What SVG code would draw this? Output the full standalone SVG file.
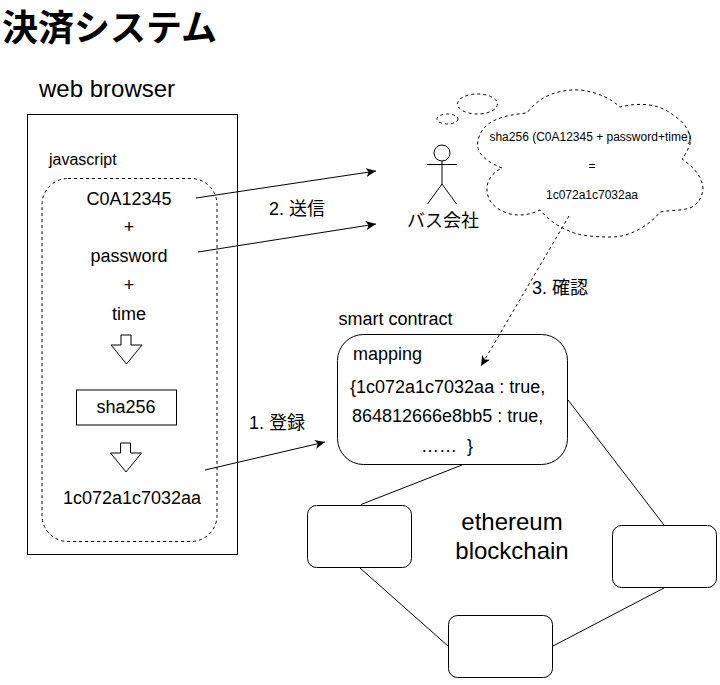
<svg xmlns="http://www.w3.org/2000/svg" width="720" height="685" viewBox="0 0 720 685">
<defs>
<marker id="arr" markerUnits="userSpaceOnUse" markerWidth="12" markerHeight="10" refX="10" refY="4.5" orient="auto"><path d="M0 0L10 4.5L0 9L2.5 4.5Z" fill="#000"/></marker>
</defs>
<style>
text{font-family:"Liberation Sans","Noto Sans CJK JP",sans-serif;fill:#000}
.m{text-anchor:middle}
.b{fill:#fff;stroke:#000;stroke-width:1}
.d{fill:none;stroke:#000;stroke-width:1;stroke-dasharray:3 3}
.c{fill:none;stroke:#000;stroke-width:1}
.ar{fill:#fff;stroke:#000;stroke-width:1}
</style>
<rect width="720" height="685" fill="#fff"/>
<text id="title" x="2" y="41" font-size="36" font-weight="bold">決済システム</text>
<g id="browser">
<rect class="b" x="27.500" y="114.500" width="210" height="440"/>
<text x="39" y="97" font-size="24">web browser</text>
<text x="49" y="165" font-size="16">javascript</text>
</g>
<g id="js">
<rect class="d" x="42" y="178.500" width="175" height="363" rx="26"/>
<text class="m" x="129" y="205" font-size="18">C0A12345</text>
<text class="m" x="129" y="233" font-size="18">+</text>
<text class="m" x="129" y="262" font-size="18">password</text>
<text class="m" x="129" y="291" font-size="18">+</text>
<text class="m" x="129" y="320" font-size="18">time</text>
<path class="ar" d="M121 335H131V345H142L126.500 364L111 345H121Z"/>
<path class="ar" d="M120.500 443H130.500V453H141.500L126 472L110.500 453H120.500Z"/>
</g>
<g id="sha">
<rect class="b" x="76.500" y="390" width="100" height="35"/>
<text class="m" x="126" y="413" font-size="18">sha256</text>
</g>
<text id="hash" class="m" x="132" y="504" font-size="18">1c072a1c7032aa</text>
<text id="label2" x="269" y="215" font-size="18">2. 送信</text>
<text id="label1" x="249" y="429" font-size="18">1. 登録</text>
<text id="label3" x="532" y="294" font-size="18">3. 確認</text>
<g id="actor" class="c">
<circle cx="442" cy="153" r="8"/>
<path d="M442 161V184M427 164.500H457M442 184L427.500 204M442 184L456.500 204"/>
</g>
<text id="bus" class="m" x="443" y="227" font-size="18">バス会社</text>
<g id="cloud">
<ellipse class="d" cx="477.500" cy="104" rx="20" ry="10"/>
<ellipse class="d" cx="447.500" cy="119" rx="10.500" ry="5"/>
<path class="d" d="M502 168C482 160 474 150 479 137C484 120 505 115 527 113C540 95 560 89 580 90C597 92 610 98 620 107C640 102 660 104 673 115C686 123 692 135 690 144C688 150 685 155 682 159C695 168 703 178 703 190C701 200 697 205 690 208C680 211 670 210 660 212C650 225 630 237 612 237C595 237 578 236 567 230C555 225 547 218 540 210C530 215 520 216 510 214C495 210 486 200 487 187C488 178 494 172 502 168Z"/>
<text class="m" x="590.500" y="141" font-size="12">sha256 (C0A12345 + password+time)</text>
<text class="m" x="592" y="170" font-size="12">=</text>
<text class="m" x="592" y="199" font-size="12">1c072a1c7032aa</text>
</g>
<g id="contract">
<text x="338.500" y="325" font-size="18">smart contract</text>
<rect class="b" x="337.500" y="334.500" width="230" height="130" rx="26"/>
<text x="353" y="360" font-size="18">mapping</text>
<text x="350" y="393" font-size="18">{1c072a1c7032aa : true,</text>
<text x="352" y="422" font-size="18">864812666e8bb5 : true,</text>
<text x="421" y="452" font-size="18">…… <tspan x="467">}</tspan></text>
</g>
<g id="n1"><rect class="b" x="307.500" y="505.500" width="104" height="62" rx="9"/></g>
<g id="n2"><rect class="b" x="612.500" y="525.500" width="104" height="62" rx="9"/></g>
<g id="n3"><rect class="b" x="448.500" y="615.500" width="104" height="62" rx="9"/></g>
<text id="eth" class="m" x="512" y="530" font-size="24">ethereum</text>
<text id="bc" class="m" x="512" y="559" font-size="24">blockchain</text>
<g id="connectors">
<path class="c" d="M361 504.500L462 465"/>
<path class="c" d="M568 400L664 525"/>
<path class="c" d="M360 568L448 646"/>
<path class="c" d="M553 646L664 588"/>
<path class="c" d="M196 198L376 171" marker-end="url(#arr)"/>
<path class="c" d="M198 252L376 224" marker-end="url(#arr)"/>
<path class="c" d="M205 470L325 442" marker-end="url(#arr)"/>
<path class="d" d="M569 216L481 366" marker-end="url(#arr)"/>
</g>
</svg>
